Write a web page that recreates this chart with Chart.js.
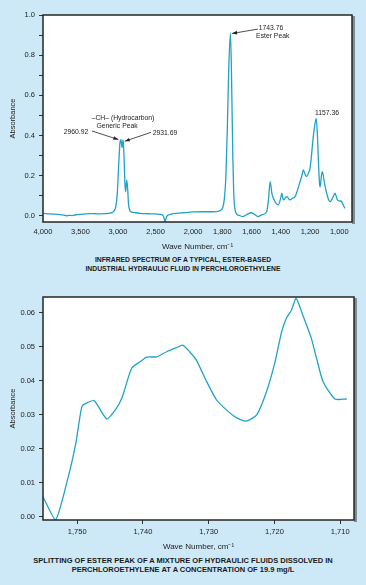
<!DOCTYPE html>
<html>
<head>
<meta charset="utf-8">
<script src="https://cdn.jsdelivr.net/npm/chart.js@4.4.1/dist/chart.umd.min.js"></script>
<style>
html, body { margin: 0; padding: 0; }
body { width: 366px; height: 585px; background: #cde8f6; position: relative; overflow: hidden; font-family: "Liberation Sans", Arial, sans-serif; }
.wrap { position: absolute; left: 0; width: 366px; }
#w1 { top: 0; height: 252px; }
#w2 { top: 285px; height: 267px; }
.cap { position: absolute; left: 0; width: 366px; text-align: center; font-weight: bold; color: #1a1a1a; }
#cap1 { top: 255px; line-height: 9px; font-size: 6.8px; }
#cap2 { top: 557px; line-height: 8.5px; font-size: 7.5px; }
</style>
</head>
<body>
<div class="wrap" id="w1"><canvas id="spectrum"></canvas></div>
<div class="cap" id="cap1">INFRARED SPECTRUM OF A TYPICAL, ESTER-BASED<br>INDUSTRIAL HYDRAULIC FLUID IN PERCHLOROETHYLENE</div>
<div class="wrap" id="w2"><canvas id="split"></canvas></div>
<div class="cap" id="cap2">SPLITTING OF ESTER PEAK OF A MIXTURE OF HYDRAULIC FLUIDS DISSOLVED IN<br>PERCHLOROETHYLENE AT A CONCENTRATION OF 19.9 mg/L</div>
<script>
// full spectrum (wave number, absorbance)
const specWave = [4000, 3907, 3840, 3773, 3720, 3684, 3650, 3613, 3560, 3507, 3440, 3373, 3300, 3240, 3170, 3107, 3060, 3030, 3010, 2990, 2975, 2960.92, 2946, 2931.69, 2920, 2908, 2898, 2884, 2872, 2860, 2845, 2820, 2760, 2707, 2600, 2507, 2440, 2400, 2385, 2373, 2362, 2345, 2320, 2280, 2200, 2133, 2060, 2000, 1920, 1843, 1810, 1795, 1785, 1775, 1765, 1755, 1743.76, 1735, 1728, 1722, 1716, 1704, 1680, 1658, 1630, 1601, 1580, 1556, 1530, 1497, 1484, 1473, 1460, 1439, 1428, 1417, 1400, 1393, 1382, 1370, 1359, 1337, 1320, 1302, 1285, 1268, 1256, 1246, 1235, 1223, 1210, 1200, 1190, 1180, 1168, 1157.36, 1150, 1143, 1135, 1131, 1122, 1116, 1100, 1086, 1075, 1063, 1045, 1029, 1020, 1013, 997, 983, 970, 961];
const specAbs = [0.013, 0.010, 0.009, 0.007, 0.004, 0.001, 0.003, 0.002, 0.006, 0.008, 0.010, 0.012, 0.011, 0.010, 0.012, 0.014, 0.022, 0.045, 0.11, 0.26, 0.36, 0.38, 0.34, 0.38, 0.30, 0.16, 0.12, 0.18, 0.14, 0.06, 0.03, 0.02, 0.016, 0.013, 0.011, 0.010, 0.008, 0.004, -0.012, -0.028, -0.015, 0.0, 0.006, 0.011, 0.014, 0.016, 0.018, 0.02, 0.021, 0.022, 0.028, 0.046, 0.09, 0.2, 0.45, 0.75, 0.91, 0.62, 0.3, 0.12, 0.05, 0.012, 0.002, -0.003, 0.008, 0.016, 0.008, -0.003, 0.006, 0.021, 0.08, 0.171, 0.11, 0.071, 0.06, 0.055, 0.09, 0.113, 0.08, 0.09, 0.096, 0.08, 0.088, 0.096, 0.13, 0.171, 0.2, 0.229, 0.21, 0.196, 0.215, 0.237, 0.3, 0.38, 0.45, 0.486, 0.41, 0.28, 0.16, 0.145, 0.2, 0.22, 0.16, 0.113, 0.085, 0.071, 0.09, 0.113, 0.095, 0.08, 0.075, 0.071, 0.05, 0.038];
const specXTicks = [4000, 3500, 3000, 2500, 2000, 1800, 1600, 1400, 1200, 1000];
const specYTicks = [0, 0.1, 0.2, 0.3, 0.4, 0.5, 0.6, 0.7, 0.8, 0.9, 1.0];

// ester peak close-up
const splitWave = [1755.2, 1753.3, 1751.4, 1750.2, 1749.3, 1748.6, 1747.4, 1745.5, 1744.2, 1743.2, 1741.7, 1740.4, 1739.4, 1737.9, 1736.4, 1734.9, 1733.9, 1732.9, 1731.9, 1730.3, 1728.8, 1727.3, 1725.8, 1724.3, 1722.7, 1721.2, 1719.9, 1718.9, 1718.2, 1717.4, 1716.7, 1715.6, 1714.4, 1713.6, 1712.6, 1710.8, 1709.0];
const splitAbs = [0.0059, -0.0009, 0.0115, 0.0218, 0.0324, 0.0335, 0.0342, 0.0288, 0.0315, 0.035, 0.0438, 0.0457, 0.047, 0.0471, 0.0486, 0.0498, 0.0505, 0.0486, 0.0462, 0.0398, 0.0344, 0.0315, 0.0292, 0.0282, 0.030, 0.0369, 0.0457, 0.0545, 0.0584, 0.0609, 0.0643, 0.0589, 0.0526, 0.0467, 0.0398, 0.0347, 0.0347];
const splitXTicks = [1750, 1740, 1730, 1720, 1710];
const splitYTicks = [0, 0.01, 0.02, 0.03, 0.04, 0.05, 0.06];

// peak labels on the spectrum, in data units
const notes = [
  { text: '1743.76', x: 1467, y: 0.935 },
  { text: 'Ester Peak', x: 1455, y: 0.895 },
  { text: '1157.36', x: 1084, y: 0.512 },
  { text: '\u2013CH\u2013 (Hydrocarbon)', x: 2933, y: 0.488 },
  { text: 'Generic Peak', x: 3013, y: 0.448 },
  { text: '2960.92', x: 3560, y: 0.418 },
  { text: '2931.69', x: 2373, y: 0.413 }
];
const arrows = [
  { from: [1556, 0.93], to: [1733, 0.908] },
  { from: [3347, 0.423], to: [2995, 0.38] },
  { from: [2560, 0.416], to: [2910, 0.372] }
];

const LINE = '#1fa3c6';
const INK = '#222';
Chart.defaults.font.family = '"Liberation Sans", Arial, sans-serif';
Chart.defaults.color = INK;

// IR charts double the scale below 2000 cm-1
const BREAK = 2000, STRETCH = 1.95;
class SplitScale extends Chart.LinearScale {
  units(v) { return v >= BREAK ? this.max - v : (this.max - BREAK) + (BREAK - v) * STRETCH; }
  getPixelForValue(v) { return this.getPixelForDecimal(this.units(v) / this.units(this.min)); }
  getValueForPixel(p) {
    const u = this.getDecimalForPixel(p) * this.units(this.min);
    const edge = this.max - BREAK;
    return u <= edge ? this.max - u : BREAK - (u - edge) / STRETCH;
  }
}
SplitScale.id = 'splitx';
SplitScale.defaults = Chart.LinearScale.defaults;
Chart.register(SplitScale);

const frame = {
  id: 'frame',
  beforeDatasetsDraw(chart) {
    const { ctx, chartArea: a } = chart;
    ctx.save();
    ctx.fillStyle = '#fff';
    ctx.fillRect(a.left, a.top, a.right - a.left, a.bottom - a.top);
    ctx.restore();
  },
  afterDatasetsDraw(chart) {
    const { ctx, chartArea: a } = chart;
    ctx.save();
    ctx.fillStyle = '#7e8c96';
    ctx.fillRect(a.right, a.top + 1, 3, a.bottom - a.top + 1);
    ctx.strokeStyle = '#262626';
    ctx.lineWidth = 1.5;
    ctx.strokeRect(a.left, a.top, a.right - a.left, a.bottom - a.top);
    ctx.restore();
  }
};

const labels = {
  id: 'labels',
  afterDraw(chart) {
    const { ctx, scales: { x, y } } = chart;
    ctx.save();
    ctx.fillStyle = INK;
    ctx.strokeStyle = INK;
    ctx.font = '6.8px "Liberation Sans", Arial, sans-serif';
    ctx.textAlign = 'center';
    ctx.textBaseline = 'middle';
    notes.forEach(n => ctx.fillText(n.text, x.getPixelForValue(n.x), y.getPixelForValue(n.y)));
    arrows.forEach(a => {
      const x0 = x.getPixelForValue(a.from[0]), y0 = y.getPixelForValue(a.from[1]);
      const x1 = x.getPixelForValue(a.to[0]), y1 = y.getPixelForValue(a.to[1]);
      const ang = Math.atan2(y1 - y0, x1 - x0);
      ctx.lineWidth = 0.8;
      ctx.beginPath(); ctx.moveTo(x0, y0); ctx.lineTo(x1, y1); ctx.stroke();
      ctx.beginPath();
      ctx.moveTo(x1, y1);
      ctx.lineTo(x1 - 5 * Math.cos(ang) + 1.8 * Math.sin(ang), y1 - 5 * Math.sin(ang) - 1.8 * Math.cos(ang));
      ctx.lineTo(x1 - 5 * Math.cos(ang) - 1.8 * Math.sin(ang), y1 - 5 * Math.sin(ang) + 1.8 * Math.cos(ang));
      ctx.closePath(); ctx.fill();
    });
    ctx.restore();
  }
};

function axisTitle(text, pad) {
  return { display: true, text, color: INK, font: { size: 8 }, padding: pad };
}

new Chart(document.getElementById('spectrum'), {
  type: 'line',
  data: { datasets: [{ data: specWave.map((w, i) => ({ x: w, y: specAbs[i] })), borderColor: LINE, borderWidth: 1.3, pointRadius: 0, cubicInterpolationMode: 'monotone' }] },
  options: {
    responsive: true, maintainAspectRatio: false, animation: false, events: [],
    layout: { padding: { top: 15, right: 14, left: 0, bottom: 0 } },
    plugins: { legend: { display: false }, tooltip: { enabled: false } },
    scales: {
      x: {
        type: 'splitx', min: 913, max: 4000, bounds: 'data',
        afterBuildTicks: s => { s.ticks = specXTicks.map(v => ({ value: v })); },
        afterFit: s => { s.height = 30; },
        border: { display: false },
        grid: { drawOnChartArea: false, drawTicks: false },
        ticks: { autoSkip: false, maxRotation: 0, padding: 5, font: { size: 7.5 }, color: INK, callback: v => v.toLocaleString('en-US') },
        title: axisTitle('Wave Number, cm\u207B\u00B9', { top: 0, bottom: 0 })
      },
      y: {
        min: -0.03, max: 1.0, bounds: 'data',
        afterBuildTicks: s => { s.ticks = specYTicks.map(v => ({ value: v })); },
        afterFit: s => { s.width = 43; },
        border: { display: false },
        grid: { drawOnChartArea: false, tickLength: 4, color: '#333' },
        ticks: { padding: 4, font: { size: 7.5 }, color: INK, callback: v => Math.round(v * 10) % 2 ? '' : v.toFixed(1) },
        title: { display: true, text: 'Absorbance', color: INK, font: { size: 7.5 }, padding: { top: 8.5, bottom: 0 } }
      }
    }
  },
  plugins: [frame, labels]
});

new Chart(document.getElementById('split'), {
  type: 'line',
  data: { datasets: [{ data: splitWave.map((w, i) => ({ x: w, y: splitAbs[i] })), borderColor: LINE, borderWidth: 1.3, pointRadius: 0, tension: 0.2 }] },
  options: {
    responsive: true, maintainAspectRatio: false, animation: false, events: [],
    layout: { padding: { top: 12, right: 12, left: 0, bottom: 0 } },
    plugins: { legend: { display: false }, tooltip: { enabled: false } },
    scales: {
      x: {
        type: 'linear', reverse: true, min: 1707.9, max: 1755.2, bounds: 'data',
        afterBuildTicks: s => { s.ticks = splitXTicks.map(v => ({ value: v })); },
        afterFit: s => { s.height = 32; },
        border: { display: false },
        grid: { drawOnChartArea: false, tickLength: 4, color: '#333' },
        ticks: { autoSkip: false, maxRotation: 0, padding: 3.5, font: { size: 7.5 }, color: INK, callback: v => v.toLocaleString('en-US') },
        title: axisTitle('Wave Number, cm\u207B\u00B9', { top: 0, bottom: 0 })
      },
      y: {
        min: -0.0009, max: 0.0647, bounds: 'data',
        afterBuildTicks: s => { s.ticks = splitYTicks.map(v => ({ value: v })); },
        afterFit: s => { s.width = 43; },
        border: { display: false },
        grid: { drawOnChartArea: false, tickLength: 4, color: '#333' },
        ticks: { padding: 4, font: { size: 7.5 }, color: INK, callback: v => v.toFixed(2) },
        title: { display: true, text: 'Absorbance', color: INK, font: { size: 7.5 }, padding: { top: 8.5, bottom: 0 } }
      }
    }
  },
  plugins: [frame]
});
</script>
</body>
</html>
